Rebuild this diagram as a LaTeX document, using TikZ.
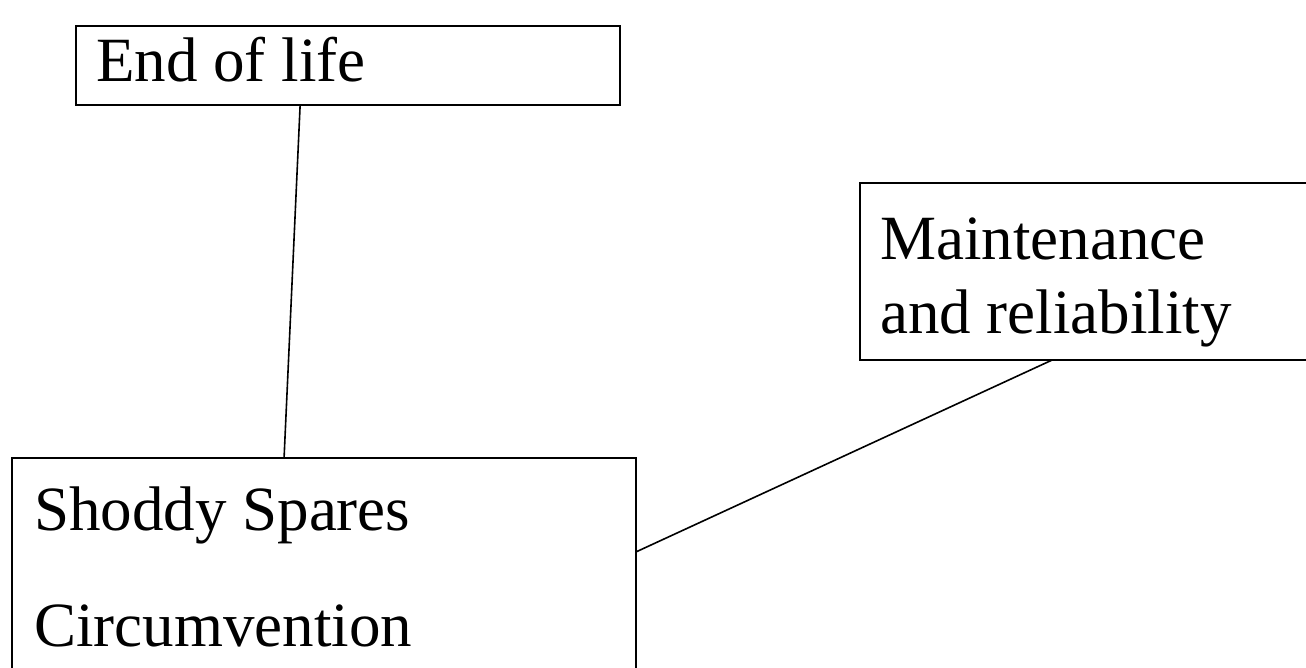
\documentclass[tikz,border=0pt]{standalone}
\usepackage{fontspec}
\setmainfont{Liberation Serif}
\usetikzlibrary{calc}
\begin{document}
\begin{tikzpicture}[x=1pt,y=-1pt,
  box/.style={draw=black,line width=1.8pt,anchor=north west,inner sep=0pt,outer sep=0pt},
  lbl/.style={anchor=base west,inner sep=0pt,font=\fontsize{63}{74}\selectfont},
  conn/.style={draw=black,line width=1.6pt}]
\useasboundingbox (0,0) rectangle (1306,667);
\begin{scope}
\clip (0,0) rectangle (1306,667);
\node[box,minimum width=544pt,minimum height=79pt] (eol) at (76,26) {};
\node[box,minimum width=450pt,minimum height=177pt] (mr) at (860,183) {};
\node[box,minimum width=624pt,minimum height=212pt] (ss) at (12,458) {};
\node[lbl] (t1) at (96,81) {End of life};
\node[lbl] (t2) at (880,259) {Maintenance};
\node[lbl] (t3) at (880,333) {and reliability};
\node[lbl] (t4) at (34,530) {Shoddy Spares};
\node[lbl] (t5) at (34,646) {Circumvention};
\draw[conn] ($(eol.south west)!0.412!(eol.south east)$) -- ($(ss.north west)!0.436!(ss.north east)$);
\draw[conn] ($(mr.south west)!0.427!(mr.south east)$) -- ($(ss.north east)!0.443!(ss.south east)$);
\end{scope}
\end{tikzpicture}
\end{document}
